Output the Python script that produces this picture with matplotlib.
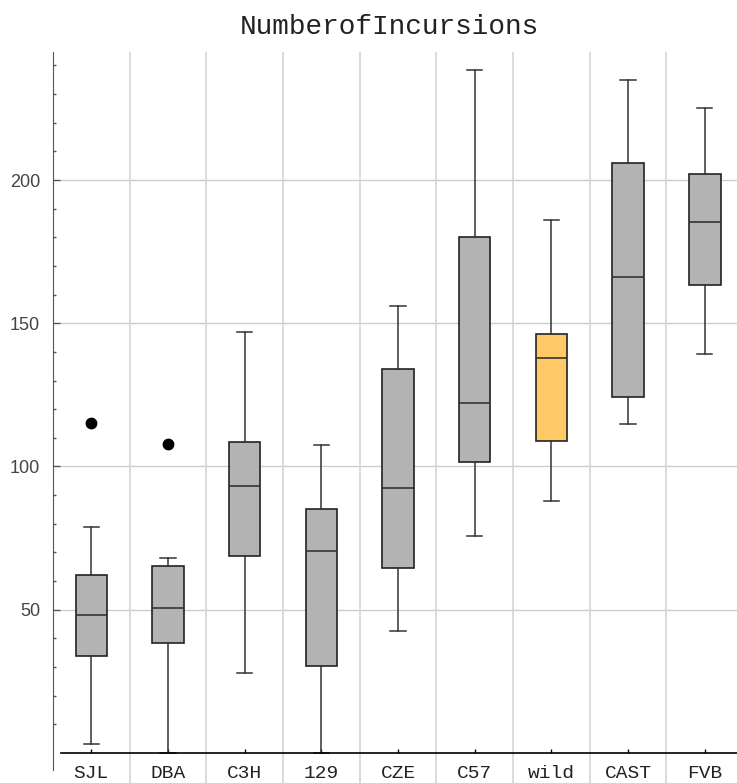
import matplotlib
matplotlib.use("Agg")
import matplotlib.pyplot as plt
from matplotlib.ticker import FixedLocator

# --- data ---
strains = ['SJL', 'DBA', 'C3H', '129', 'CZE', 'C57', 'wild', 'CAST', 'FVB']
whis_lo = [3.2, 0.0, 28.0, 0.0, 42.4, 75.9, 88.0, 114.8, 139.3]
q1 = [33.8, 38.4, 68.9, 30.3, 64.5, 101.6, 108.8, 124.2, 163.4]
median = [48.2, 50.5, 93.3, 70.6, 92.6, 122.3, 137.9, 166.1, 185.3]
q3 = [62.1, 65.3, 108.6, 85.0, 134.0, 180.0, 146.4, 205.9, 202.2]
whis_hi = [78.7, 68.2, 147.1, 107.6, 156.1, 238.3, 186.0, 235.0, 225.1]
outliers = [[115.3], [107.7], [], [], [], [], [], [], []]
highlight = 'wild'

major_y = [50, 100, 150, 200]
minor_y = [v for v in range(10, 250, 10) if v not in major_y]

mono = 'Liberation Mono'

fig = plt.figure(figsize=(7.37, 7.83), dpi=100)
ax = fig.add_axes([53 / 737, 0.0, 1 - 53 / 737, 1 - 52 / 783])

positions = list(range(1, len(strains) + 1))
stats = []
for i, s in enumerate(strains):
    stats.append(dict(label=s, whislo=whis_lo[i], q1=q1[i], med=median[i],
                      q3=q3[i], whishi=whis_hi[i], fliers=outliers[i]))

bp = ax.bxp(stats, positions=positions, widths=0.41, capwidths=0.2,
            patch_artist=True,
            boxprops=dict(facecolor='#b3b3b3', edgecolor='#222222', linewidth=1.2),
            medianprops=dict(color='#333333', linewidth=1.2),
            whiskerprops=dict(color='#333333', linewidth=1.1),
            capprops=dict(color='#333333', linewidth=1.1),
            flierprops=dict(marker='o', markerfacecolor='black',
                            markeredgecolor='black', markersize=7.5))
for box, s in zip(bp['boxes'], strains):
    box.set_zorder(3)
    if s == highlight:
        box.set_facecolor('#ffca66')
for key in ('whiskers', 'caps', 'medians', 'fliers'):
    for art in bp[key]:
        art.set_zorder(3)

ax.set_xlim(0.5, 9.42)
ax.set_ylim(-10.5, 244.7)

# grid: horizontal at major y ticks, vertical between categories
for y in major_y:
    ax.axhline(y, xmin=0.009, color='#cccccc', linewidth=1.0, zorder=0)
for x in positions[:-1]:
    ax.axvline(x + 0.5, color='#d4d4d4', linewidth=1.2, zorder=0)

# axes look
ax.spines['top'].set_visible(False)
ax.spines['right'].set_visible(False)
ax.spines['left'].set_bounds(-6, 244.7)
ax.spines['left'].set_color('#555555')
ax.spines['bottom'].set_position(('data', 0))
ax.spines['bottom'].set_bounds(0.6, 9.42)
ax.spines['bottom'].set_color('black')
ax.spines['bottom'].set_linewidth(1.2)
ax.spines['bottom'].set_zorder(4)

ax.set_xticks(positions, strains)
ax.tick_params(axis='x', direction='in', length=3, width=1, pad=9,
               labelsize=14, labelcolor='#222222')
for lab in ax.get_xticklabels():
    lab.set_fontfamily(mono)

ax.set_yticks(major_y)
ax.yaxis.set_minor_locator(FixedLocator(minor_y))
ax.tick_params(axis='y', which='major', direction='in', length=5, width=1,
               pad=9.4, labelsize=13, labelcolor='#444444', color='#555555')
ax.tick_params(axis='y', which='minor', direction='in', length=2.5, width=1,
               color='#555555')
for lab in ax.get_yticklabels():
    lab.set_fontfamily('Liberation Sans')

fig.text(389 / 737, 1 - 27 / 783, 'NumberofIncursions', ha='center', va='center',
         fontsize=20, family=mono, color='#222222')

fig.savefig('out.png', dpi=100)
